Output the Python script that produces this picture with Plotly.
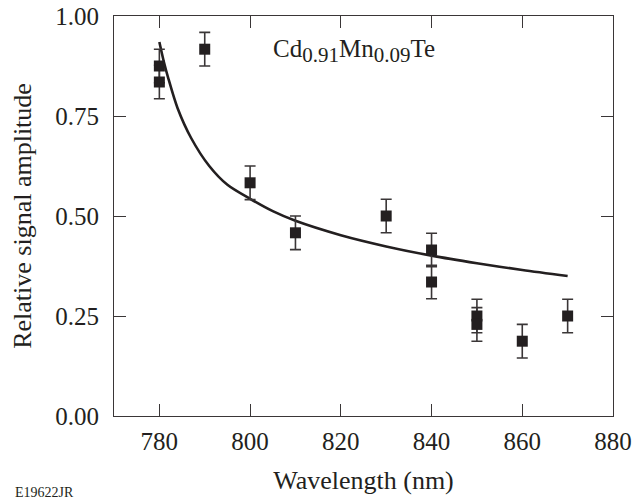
import plotly.graph_objects as go

# Measured data (wavelength in nm, relative amplitude)
data_wl = [780, 780, 790, 800, 810, 830, 840, 840, 850, 850, 860, 870]
data_amp = [0.875, 0.835, 0.917, 0.583, 0.458, 0.500, 0.415, 0.335, 0.250, 0.229, 0.187, 0.250]
data_err = [0.042, 0.042, 0.042, 0.042, 0.042, 0.042, 0.042, 0.042, 0.042, 0.042, 0.042, 0.042]

# Fitted curve
fit_wl = [780, 781, 782, 784, 787, 791, 795, 800, 805, 810, 820, 830, 840, 850, 860, 870]
fit_amp = [0.935, 0.885, 0.843, 0.770, 0.695, 0.625, 0.578, 0.543, 0.512, 0.488, 0.452, 0.424, 0.401, 0.382, 0.365, 0.350]

x_ticks = [780, 800, 820, 840, 860, 880]
y_ticks = [0.00, 0.25, 0.50, 0.75, 1.00]
y_tick_labels = ["0.00", "0.25", "0.50", "0.75", "1.00"]

INK = "#231f20"
AX = "#3a3637"
FONT = "Liberation Serif, Times New Roman, serif"

fig = go.Figure()
fig.add_trace(go.Scatter(
    x=fit_wl, y=fit_amp, mode="lines",
    line=dict(color=INK, width=2.6, shape="spline", smoothing=0.8),
    hoverinfo="skip", showlegend=False,
))
fig.add_trace(go.Scatter(
    x=data_wl, y=data_amp, mode="markers",
    marker=dict(symbol="square", size=11, color=INK, line=dict(width=0)),
    error_y=dict(type="data", array=data_err, visible=True, color=AX, thickness=1.6, width=5.5),
    showlegend=False,
))

axis_common = dict(
    showgrid=False, zeroline=False, showline=True, linecolor=AX, linewidth=1.2,
    mirror="ticks", ticks="inside", ticklen=12, tickwidth=1.2, tickcolor=AX,
    tickfont=dict(family=FONT, size=25, color=INK), automargin=False,
    ticklabeloverflow="allow",
)

sub = "<sub><span style='font-size:21px'>{}</span></sub>"
label_text = "Cd" + sub.format("0.91") + "Mn" + sub.format("0.09") + "Te"

fig.update_layout(
    width=632, height=500,
    margin=dict(l=114, r=19, t=16, b=84),
    paper_bgcolor="white", plot_bgcolor="white",
    font=dict(family=FONT, color=INK),
    xaxis=dict(
        range=[770, 880], tickvals=x_ticks, ticktext=[str(v) for v in x_ticks],
        title=dict(text="Wavelength (nm)", font=dict(family=FONT, size=26, color=INK), standoff=16),
        ticklabelstandoff=3,
        **axis_common,
    ),
    yaxis=dict(
        range=[0, 1.0], tickvals=y_ticks, ticktext=y_tick_labels,
        title=dict(text="Relative signal amplitude", font=dict(family=FONT, size=26, color=INK), standoff=16),
        ticklabelstandoff=9,
        **axis_common,
    ),
    annotations=[
        dict(text=label_text, xref="paper", yref="paper",
             x=0.315, y=0.912, xanchor="left", yanchor="middle", showarrow=False,
             font=dict(family=FONT, size=25, color=INK)),
        dict(text="E19622JR", xref="paper", yref="paper",
             x=-0.203, y=-0.19, xanchor="left", yanchor="middle", showarrow=False,
             font=dict(family=FONT, size=14, color=INK)),
    ],
)

# remove the browser's default 8px body margin so the figure fills the window exactly
fig.write_html(
    "out.html",
    config={"displayModeBar": False},
    post_script="document.body.style.margin='0';document.body.style.overflow='hidden';",
)
